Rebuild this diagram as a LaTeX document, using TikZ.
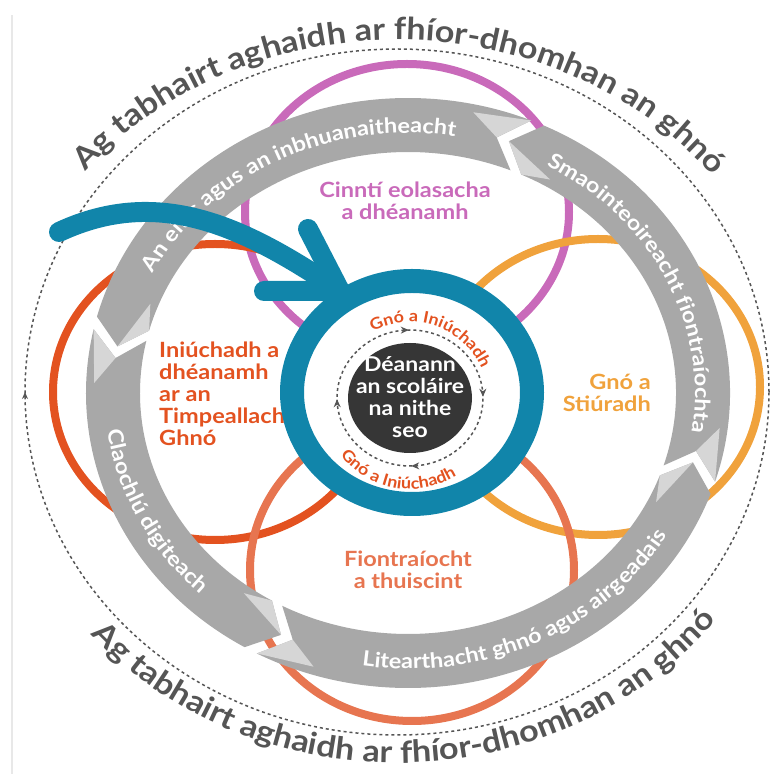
\documentclass[tikz,border=0pt]{standalone}
\usepackage{fontspec}
\setmainfont{Lato}[FakeStretch=1.12]
\usetikzlibrary{arrows.meta,decorations.text,decorations.markings}

\definecolor{bandgray}{RGB}{168,168,168}
\definecolor{foldgray}{RGB}{214,214,214}
\definecolor{ringblue}{RGB}{17,133,170}
\definecolor{pinkc}{RGB}{201,106,186}
\definecolor{redc}{RGB}{227,82,32}
\definecolor{orangec}{RGB}{240,162,60}
\definecolor{salmonc}{RGB}{231,117,80}
\definecolor{corec}{RGB}{54,54,54}
\definecolor{rimgray}{RGB}{85,85,85}

\newcommand{\bandfont}{\bfseries\fontsize{21}{21}\selectfont}
\newcommand{\rimfont}{\bfseries\fontsize{30.5}{30.5}\selectfont}
\newcommand{\smallfont}{\bfseries\fontsize{16}{16}\selectfont}

% one grey arrow of the ring: tail angle, head angle
\newcommand{\ribbon}[2]{%
  \fill[bandgray] (#1-2.5:322 and 295) arc[start angle=#1-2.5, end angle=#2-5, x radius=322, y radius=295]
    -- (#2:295 and 268) -- (#2-5:268 and 241)
    arc[start angle=#2-5, end angle=#1-2.5, x radius=268, y radius=241]
    -- (#1+2.5:295 and 268) -- cycle;
  \fill[foldgray] (#2:295 and 268) -- (#2-5:268 and 241) -- (#2-11:276 and 249) -- cycle;
  \fill[foldgray] (#1+2.5:295 and 268) -- (#1-2.5:322 and 295) -- (#1+8:314 and 287) -- cycle;
}

\tikzset{
  rim/.style={rimgray, line width=1.5, dash pattern=on 3pt off 3pt},
  loop circle/.style={line width=8},
  label text/.style={font=\bfseries\fontsize{21}{22}\selectfont, inner sep=0},
  band text/.style={decorate, decoration={text along path, text align=center,
      text color=white, text={|\bandfont|#1}}},
  rim text/.style={decorate, decoration={text along path, text align=center,
      text color=rimgray, text={|\rimfont|#1}}},
  core text/.style={decorate, decoration={text along path, text align=center,
      text color=redc, text={|\smallfont|#1}}},
  blue arrow/.style={ringblue, line width=20, line cap=round, line join=round},
}

\begin{document}
\begin{tikzpicture}[x=1pt, y=1pt, >=Stealth, line join=round]
  \useasboundingbox (0,0) rectangle (772,774);
  \draw[gray!18, line width=2] (12,0) -- (12,759);

  % outer dotted loop and its titles
  \draw[rim, postaction={decorate, solid, decoration={markings,
      mark=at position 0.5 with {\arrowreversed{Stealth[length=7pt,width=6pt]}}}}]
    (397,382) ellipse [x radius=372, y radius=343];
  \path[rim text={Ag tabhairt aghaidh ar fhíor-dhomhan an ghnó}]
    (397,382) ++(165:400 and 352) arc[start angle=165, end angle=14, x radius=400, y radius=352];
  \path[rim text={Ag tabhairt aghaidh ar fhíor-dhomhan an ghnó}]
    (397,382) ++(192:405 and 371) arc[start angle=192, end angle=351, x radius=405, y radius=371];

  % the four coloured loops
  \draw[pinkc, loop circle] (407,562) ellipse [x radius=162, y radius=148];
  \draw[redc, loop circle] (215,382) ellipse [x radius=162, y radius=148];
  \draw[orangec, loop circle] (598,387) ellipse [x radius=162, y radius=148];
  \draw[salmonc, loop circle] (412,204) ellipse [x radius=162, y radius=151];

  % grey ring of arrows
  \begin{scope}[shift={(408,381)}]
    \ribbon{-15}{70}
    \ribbon{70}{170}
    \ribbon{170}{244.5}
    \ribbon{244.5}{345}
    \path[band text={An eitic agus an inbhuanaitheacht}]
      (163:287 and 260) arc[start angle=163, end angle=71, x radius=287, y radius=260];
    \path[band text={Smaointeoireacht fiontraíochta}]
      (68:287 and 260) arc[start angle=68, end angle=-16, x radius=287, y radius=260];
    \path[band text={Litearthacht ghnó agus airgeadais}]
      (250:303 and 276) arc[start angle=250, end angle=341, x radius=303, y radius=276];
    \path[band text={Claochlú digiteach}]
      (178:303 and 276) arc[start angle=178, end angle=236, x radius=303, y radius=276];
  \end{scope}

  \node[label text, text=pinkc, align=center] (knowledge) at (405,573) {Cinntí eolasacha\\a dhéanamh};
  \node[label text, text=redc, align=left, anchor=west] (explore) at (159,380)
    {Iniúchadh a\\dhéanamh\\ar an\\Timpeallacht\\Ghnó};
  \node[label text, text=orangec, align=right, anchor=east] (manage) at (651,381) {Gnó a\\Stiúradh};
  \node[label text, text=salmonc, align=center] (enterprise) at (408,204) {Fiontraíocht\\a thuiscint};

  % centre
  \fill[white] (412,381.5) ellipse [x radius=112, y radius=102];
  \fill[corec] (410,376) ellipse [x radius=62, y radius=55];
  \node[font=\bfseries\fontsize{20.5}{22}\selectfont, text=white, align=center, inner sep=0]
    (core) at (410,377) {Déanann\\an scoláire\\na nithe\\seo};
  \draw[rimgray, line width=1.5, dash pattern=on 3pt off 3pt,
    postaction={decorate, solid, decoration={markings,
      mark=at position 0.125 with {\arrow{Stealth[length=8pt,width=7pt]}},
      mark=at position 0.375 with {\arrow{Stealth[length=8pt,width=7pt]}},
      mark=at position 0.625 with {\arrow{Stealth[length=8pt,width=7pt]}},
      mark=at position 0.875 with {\arrow{Stealth[length=8pt,width=7pt]}}}}]
    (410,376) ++(135:73 and 68) arc[start angle=135, end angle=-225, x radius=73, y radius=68];
  \path[core text={Gnó a Iniúchadh}] (410,374) ++(128:78 and 78) arc[start angle=128, end angle=14, radius=78];
  \path[core text={Gnó a Iniúchadh}] (410,374) ++(200:89 and 89) arc[start angle=200, end angle=320, radius=89];

  % blue ring and arrow
  \draw[ringblue, line width=24] (412,381.5) ellipse [x radius=120, y radius=111.5];
  \coordinate (arrowtail) at (59,542);
  \coordinate (arrowtip) at (340,483);
  \coordinate (barbup) at (308,545);
  \coordinate (barbleft) at (264,483);
  \draw[blue arrow] (arrowtail) to[out=25, in=146] (arrowtip);
  \draw[blue arrow] (barbup) -- (arrowtip) -- (barbleft);
\end{tikzpicture}
\end{document}
